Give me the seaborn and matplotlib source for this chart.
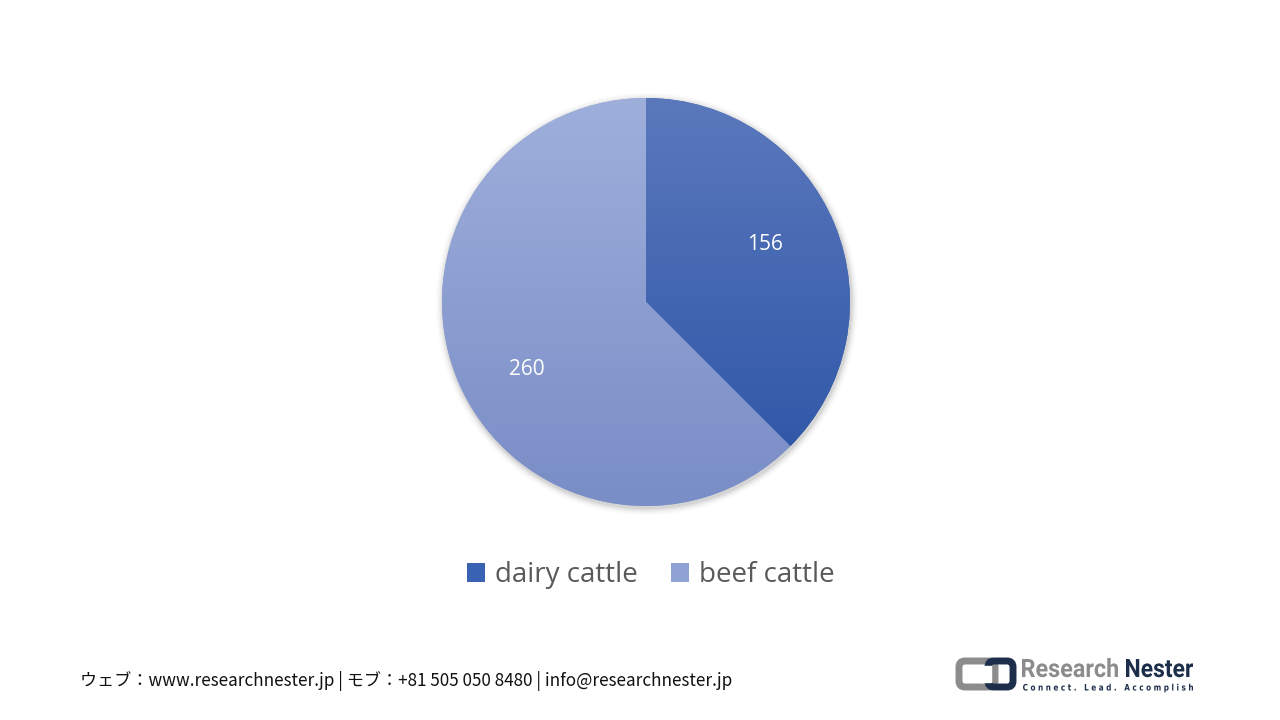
import numpy as np
import pandas as pd
import matplotlib
matplotlib.use("Agg")
import matplotlib.pyplot as plt
import seaborn as sns
from matplotlib.colors import LinearSegmentedColormap
from matplotlib.patches import Patch, FancyBboxPatch, Circle, PathPatch
from matplotlib.textpath import TextPath
from matplotlib.font_manager import FontProperties
from matplotlib.transforms import Affine2D

# ---- data ----
categories = ["dairy cattle", "beef cattle"]
values = [156, 260]
legend_colors = ["#3a62b4", "#8fa2d6"]
grad_top = ["#5b78bc", "#9fafdc"]
grad_bottom = ["#2a53a5", "#798dc6"]

footer = "ウェブ：www.researchnester.jp | モブ：+81 505 050 8480 | info@researchnester.jp"

sns.set_theme(style="white")
plt.rcParams['font.family'] = ['Open Sans', 'DejaVu Sans']

df = pd.DataFrame({"category": categories, "value": values})

fig = plt.figure(figsize=(12.8, 7.2), dpi=100)
fig.patch.set_facecolor("white")

W, H = 1280, 720
cx, cy, r = 646, 302, 204
pad = 1.05
ax = fig.add_axes([(cx - r * pad) / W, (H - cy - r * pad) / H, 2 * r * pad / W, 2 * r * pad / H])

# soft shadow
for k, a in zip(range(6), [0.05, 0.04, 0.03, 0.02, 0.015, 0.01]):
    ax.add_patch(Circle((0.005, -0.01), 1.0 + 0.006 * (k + 1), color="black", alpha=a, lw=0, zorder=0))

wedges, texts = ax.pie(df["value"], startangle=90, counterclock=False,
                       colors=legend_colors, radius=1.0,
                       labels=[str(v) for v in df["value"]], labeldistance=0.66,
                       wedgeprops=dict(linewidth=0),
                       textprops=dict(color="white", fontsize=15))
for w, t in zip(wedges, texts):
    mid = np.deg2rad((w.theta1 + w.theta2) / 2 + 5)
    t.set_position((0.66 * np.cos(mid), 0.66 * np.sin(mid) - 0.025))
    t.set_horizontalalignment("center")
    t.set_verticalalignment("center")
    t.set_zorder(5)

grad = np.linspace(0, 1, 256).reshape(-1, 1)
for w, c0, c1 in zip(wedges, grad_top, grad_bottom):
    cmap = LinearSegmentedColormap.from_list("g", [c0, c1])
    im = ax.imshow(grad, cmap=cmap, extent=[-1, 1, -1, 1], origin="upper",
                   aspect="auto", zorder=2)
    im.set_clip_path(w)
ax.set_xlim(-pad, pad)
ax.set_ylim(-pad, pad)
ax.set_aspect("equal")
ax.axis("off")

# legend
handles = [Patch(facecolor=c, edgecolor="none") for c in legend_colors]
leg = fig.legend(handles, categories, loc="center", bbox_to_anchor=(651 / W, 1 - 575 / H),
                 ncol=2, frameon=False, fontsize=20, handlelength=0.65, handleheight=0.65,
                 handletextpad=0.35, columnspacing=1.2)
for t in leg.get_texts():
    t.set_color("#595959")

# footer
fig.text(80 / W, 1 - 681 / H, footer, fontsize=12.3, color="#111111", va="center", ha="left",
         family=['Noto Sans CJK JP', 'DejaVu Sans'])

# logo
lax = fig.add_axes([0, 0, 1, 1], zorder=10)
lax.set_xlim(0, W)
lax.set_ylim(H, 0)
lax.axis("off")
lax.patch.set_alpha(0)
lax.add_patch(FancyBboxPatch((959, 661), 36, 26, boxstyle="round,pad=0,rounding_size=6",
                             fill=False, ec="#8c8c8c", lw=5))
lax.add_patch(FancyBboxPatch((988, 661), 25, 26, boxstyle="round,pad=0,rounding_size=6",
                             fill=False, ec="#1c2e4a", lw=5))
lax.add_patch(plt.Rectangle((981, 666), 10, 16, color="white", zorder=3))


def logo_text(x0, x1, baseline, cap, s, color, family="Roboto"):
    fp = FontProperties(family=family, weight="bold")
    tp = TextPath((0, 0), s, size=1, prop=fp)
    capp = TextPath((0, 0), "H", size=1, prop=fp).get_extents()
    bb = tp.get_extents()
    sx = (x1 - x0) / bb.width
    sy = cap / capp.y1
    tr = Affine2D().translate(-bb.x0, 0).scale(sx, -sy).translate(x0, baseline)
    lax.add_patch(PathPatch(tr.transform_path(tp), fc=color, ec="none", zorder=4))


logo_text(1022, 1118, 677, 18, "Research", "#8c8c8c")
logo_text(1126, 1193, 677, 18, "Nester", "#1c2e4a")
logo_text(1023, 1193, 690.5, 6.5, "C o n n e c t .   L e a d .   A c c o m p l i s h", "#1c2e4a",
          family="DejaVu Sans")

fig.savefig("out.png", dpi=100, facecolor="white")
